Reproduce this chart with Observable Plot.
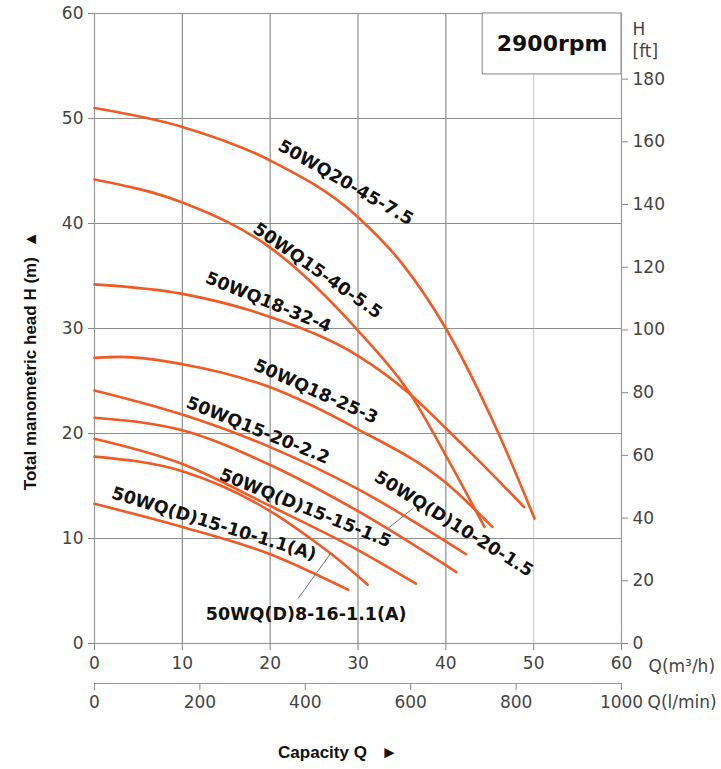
<!DOCTYPE html>
<html><head><meta charset="utf-8">
<script src="https://cdn.jsdelivr.net/npm/d3@7"></script>
<script src="https://cdn.jsdelivr.net/npm/@observablehq/plot@0.6"></script>
<style>
body{margin:0;background:#fff;}
#chart svg{overflow:visible;}
</style></head><body><div id="chart"></div>
<script>
// ---- data (Q in m³/h, H in m) ----
const models = ["50WQ20-45-7.5","50WQ15-40-5.5","50WQ18-32-4","50WQ18-25-3","50WQ15-20-2.2",
                "50WQ(D)10-20-1.5","50WQ(D)15-15-1.5","50WQ(D)8-16-1.1(A)","50WQ(D)15-10-1.1(A)"];
const q_20_45_75 = [0,10,20,30,35,40,46,50.1];
const h_20_45_75 = [51.0,49.2,46.0,40.6,36.2,30.0,20.0,11.9];
const q_15_40_55 = [0,10,20,30,36,40,44.4];
const h_15_40_55 = [44.2,42.0,37.7,29.8,23.7,17.9,11.1];
const q_18_32_4 = [0,10,20,30,36,40,44,48.9];
const h_18_32_4 = [34.2,33.3,31.1,27.4,23.7,20.5,17.2,13.0];
const q_18_25_3 = [0,3,10,20,30,40,45.3];
const h_18_25_3 = [27.2,27.3,26.6,24.4,20.4,15.3,11.1];
const q_15_20_22 = [0,10,20,30,42.3];
const h_15_20_22 = [24.1,21.8,18.7,14.7,8.5];
const q_10_20_15 = [0,10,20,30,41.2];
const h_10_20_15 = [21.5,20.3,17.0,12.6,6.8];
const q_15_15_15 = [0,10,20,30,36.6];
const h_15_15_15 = [19.5,17.1,13.1,8.9,5.7];
const q_8_16_11 = [0,10,20,25.4,27,31.1];
const h_8_16_11 = [17.8,16.4,12.6,9.5,8.5,5.6];
const q_15_10_11 = [0,10,20,28.9];
const h_15_10_11 = [13.3,11.1,8.5,5.1];

// label anchors (Q, H) and slope angle of each curve label
const labelQ = [28.6,25.4,19.8,25.2,18.6,40.9,24.0,24.1,13.6];
const labelH = [43.9,35.5,32.5,24.0,20.3,11.4,12.9,2.8,11.4];
const labelAngle = [30,35,22,24,22,32,22,0,17];
// leader lines for two labels
const leaderModels = ["50WQ(D)10-20-1.5","50WQ(D)8-16-1.1(A)"];
const leaderQ1 = [36.3,23.2], leaderH1 = [12.9,4.3], leaderQ2 = [33.4,26.9], leaderH2 = [10.95,8.6];

// axis ticks
const qTicks = [0,10,20,30,40,50,60];
const hTicks = [0,10,20,30,40,50,60];
const lpmTicks = [0,200,400,600,800,1000];
const ftTicks = [0,20,40,60,80,100,120,140,160,180];
const speedLabel = "2900rpm";
const speedBox = {q1: 44.2, q2: 60, h1: 54.2, h2: 60};

// ---- build ----
const curveQ = [q_20_45_75,q_15_40_55,q_18_32_4,q_18_25_3,q_15_20_22,q_10_20_15,q_15_15_15,q_8_16_11,q_15_10_11];
const curveH = [h_20_45_75,h_15_40_55,h_18_32_4,h_18_25_3,h_15_20_22,h_10_20_15,h_15_15_15,h_8_16_11,h_15_10_11];
const curveRows = models.flatMap((m, i) => curveQ[i].map((q, j) => ({model: m, q, h: curveH[i][j]})));
const labelRows = models.map((m, i) => ({model: m, q: labelQ[i], h: labelH[i], a: labelAngle[i]}));
const leaderRows = leaderModels.map((m, i) => ({model: m, q1: leaderQ1[i], h1: leaderH1[i], q2: leaderQ2[i], h2: leaderH2[i]}));
const LPM = 0.06;     // m³/h per l/min
const FT = 0.2986;    // m per ft tick spacing as drawn

const grid = "#8e8e8e";
const orange = "#F15A24";
const tickFont = "DejaVu Sans";

const chart = Plot.plot({
  width: 721, height: 769,
  marginLeft: 94, marginRight: 100, marginTop: 13, marginBottom: 126,
  style: {fontFamily: tickFont, fontSize: "17px", color: "#444", background: "#fff"},
  x: {domain: [0, 60]},
  y: {domain: [0, 60]},
  marks: [
    Plot.ruleX([10,20,30,40], {stroke: grid, strokeWidth: 1.2}),
    Plot.ruleX([50], {stroke: "#d2d2d2", strokeWidth: 1.2}),
    Plot.ruleY([10,20,30,40,50], {stroke: grid, strokeWidth: 1.2}),
    Plot.frame({stroke: "#9a9a9a", strokeWidth: 1.2}),
    Plot.ruleY([0], {stroke: "#9a9a9a", strokeWidth: 1.2, dy: 40}),
    Plot.axisY({ticks: hTicks, tickSize: 6, tickPadding: 5, stroke: "#888", fill: "#444", fontSize: 17}),
    Plot.axisY({anchor: "right", ticks: ftTicks.map(f => f * FT), tickFormat: d => String(Math.round(d / FT)), tickSize: 6, tickPadding: 5, stroke: "#888", fill: "#444", fontSize: 17}),
    Plot.axisX({ticks: qTicks, tickSize: 7, tickPadding: 6, stroke: "#888", fill: "#444", fontSize: 17}),
    Plot.axisX({ticks: lpmTicks.map(v => v * LPM), tickFormat: d => String(Math.round(d / LPM)), tickSize: 7, tickPadding: 5, dy: 40, stroke: "#888", fill: "#444", fontSize: 17}),
    Plot.text(["Q(m³/h)"], {x: 60, y: 0, dx: 27, dy: 23, textAnchor: "start", fill: "#444", fontSize: 17}),
    Plot.text(["Q(l/min)"], {x: 60, y: 0, dx: 26, dy: 59, textAnchor: "start", fill: "#444", fontSize: 17}),
    Plot.text(["H"], {frameAnchor: "top-right", dx: 11, dy: 9, textAnchor: "start", fill: "#444", fontSize: 17}),
    Plot.text(["[ft]"], {frameAnchor: "top-right", dx: 11, dy: 31, textAnchor: "start", fill: "#444", fontSize: 17}),
    Plot.rect([speedBox], {x1: "q1", x2: "q2", y1: "h1", y2: "h2", fill: "#fff", stroke: "#9a9a9a", strokeWidth: 1.2}),
    Plot.text([speedBox], {x: d => (d.q1 + d.q2) / 2, y: d => (d.h1 + d.h2) / 2, text: () => speedLabel, fontSize: 22, fontWeight: "bold", fill: "#111"}),
    Plot.line(curveRows, {x: "q", y: "h", z: "model", stroke: orange, strokeWidth: 2.6, curve: "monotone-x"}),
    Plot.link(leaderRows, {x1: "q1", y1: "h1", x2: "q2", y2: "h2", stroke: "#777", strokeWidth: 1}),
    Plot.text(labelRows, {x: "q", y: "h", text: "model", rotate: "a", fontSize: 17.5, fontWeight: "bold", fill: "#111"}),
    Plot.text(["Capacity Q\u00a0\u00a0\u00a0►"], {frameAnchor: "bottom", textAnchor: "middle", dx: -20, dy: 114, fontFamily: "Liberation Sans", fontWeight: "bold", fontSize: 17, fill: "#111"}),
    Plot.text(["Total manometric head H (m)\u00a0\u00a0▲"], {frameAnchor: "left", textAnchor: "middle", rotate: -90, dx: -64, dy: 32, fontFamily: "Liberation Sans", fontWeight: "bold", fontSize: 17, fill: "#111"})
  ]
});
document.getElementById("chart").append(chart);
</script>
</body></html>
